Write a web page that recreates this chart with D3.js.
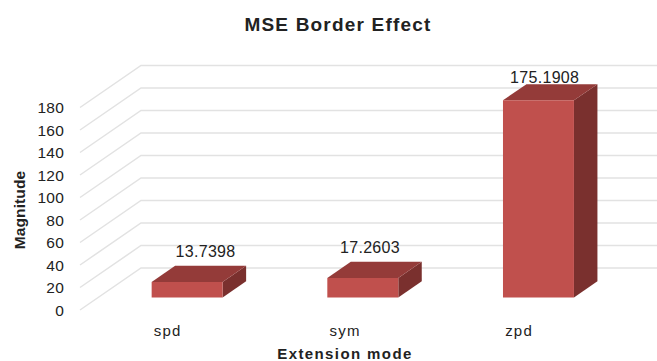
<!DOCTYPE html>
<html>
<head>
<meta charset="utf-8">
<script src="https://cdn.jsdelivr.net/npm/d3@7"></script>
<style>
  html, body { margin: 0; padding: 0; background: #fff; }
  svg { display: block; }
  text { font-family: "Liberation Sans", Arial, sans-serif; fill: #222; }
</style>
</head>
<body>
<svg id="chart" width="657" height="361"></svg>
<script>
const categories = ["spd", "sym", "zpd"];
const magnitudes = [13.7398, 17.2603, 175.1908];
const valueLabels = ["13.7398", "17.2603", "175.1908"];
const yTicks = [0, 20, 40, 60, 80, 100, 120, 140, 160, 180];

const svg = d3.select("#chart");

// Oblique projection: depth 0 is the front floor edge, depth 1 the back wall.
const y = d3.scaleLinear().domain([0, 180]).range([310, 107.5]);
const depthX = d3.scaleLinear().domain([0, 1]).range([0, 61]);
const depthY = d3.scaleLinear().domain([0, 1]).range([0, -42]);
const x = d3.scaleBand().domain(categories).range([81, 608]).paddingInner(0.596).paddingOuter(0.298);

const barFront = 0.3, barBack = 0.685;
const project = (px, value, depth) => [px + depthX(depth), y(value) + depthY(depth)];
const poly = pts => pts.map(p => p.join(",")).join(" ");

// Gridlines run along the floor edge, then across the back wall.
const wallRight = 660;
svg.append("g").selectAll("polyline").data(yTicks).join("polyline")
  .attr("fill", "none")
  .attr("stroke", "#e2e2e2")
  .attr("stroke-width", 1.5)
  .attr("points", d => poly([project(80, d, 0), project(80, d, 1), [wallRight, y(d) + depthY(1)]]));

// Value axis labels
svg.append("g").selectAll("text").data(yTicks).join("text")
  .attr("x", 64)
  .attr("y", d => y(d) + 5.5)
  .attr("text-anchor", "end")
  .attr("font-size", 15.5)
  .attr("letter-spacing", 0.2)
  .text(d => d);

// Bars: side and top faces first, then the front
const bars = svg.append("g").selectAll("g").data(categories).join("g");
bars.append("polygon")
  .attr("fill", "#7a302e")
  .attr("points", (c, i) => {
    const r = x(c) + x.bandwidth(), v = magnitudes[i];
    return poly([project(r, 0, barFront), project(r, 0, barBack), project(r, v, barBack), project(r, v, barFront)]);
  });
bars.append("polygon")
  .attr("fill", "#943b39")
  .attr("points", (c, i) => {
    const l = x(c), r = l + x.bandwidth(), v = magnitudes[i];
    return poly([project(l, v, barFront), project(l, v, barBack), project(r, v, barBack), project(r, v, barFront)]);
  });
bars.append("polygon")
  .attr("fill", "#c0504d")
  .attr("points", (c, i) => {
    const l = x(c), r = l + x.bandwidth(), v = magnitudes[i];
    return poly([project(l, 0, barFront), project(r, 0, barFront), project(r, v, barFront), project(l, v, barFront)]);
  });

// Value labels sit above each bar's top face, held below the top of the wall
const labelCeiling = 82.5;
const labelShift = [36.7, 25.5, 24.5];
bars.append("text")
  .attr("x", (c, i) => x(c) + x.bandwidth() / 2 + labelShift[i])
  .attr("y", (c, i) => Math.max(project(0, magnitudes[i], barBack)[1] - 8.5, labelCeiling))
  .attr("text-anchor", "middle")
  .attr("font-size", 16)
  .attr("letter-spacing", 0.3)
  .text((c, i) => valueLabels[i]);

// Category labels
bars.append("text")
  .attr("x", c => x(c) + x.bandwidth() / 2 - 15)
  .attr("y", 336)
  .attr("font-size", 15)
  .attr("letter-spacing", 1.2)
  .text(c => c);

// Titles
svg.append("text").attr("x", 338).attr("y", 31).attr("text-anchor", "middle")
  .attr("font-size", 19).attr("font-weight", "bold").attr("letter-spacing", 1.2).text("MSE Border Effect");
svg.append("text").attr("x", 345).attr("y", 359).attr("text-anchor", "middle")
  .attr("font-size", 15).attr("font-weight", "bold").attr("letter-spacing", 1.4).text("Extension mode");
svg.append("text").attr("transform", "translate(25,210) rotate(-90)").attr("text-anchor", "middle")
  .attr("font-size", 15.5).attr("font-weight", "bold").attr("letter-spacing", 0.1).text("Magnitude");
</script>
</body>
</html>
